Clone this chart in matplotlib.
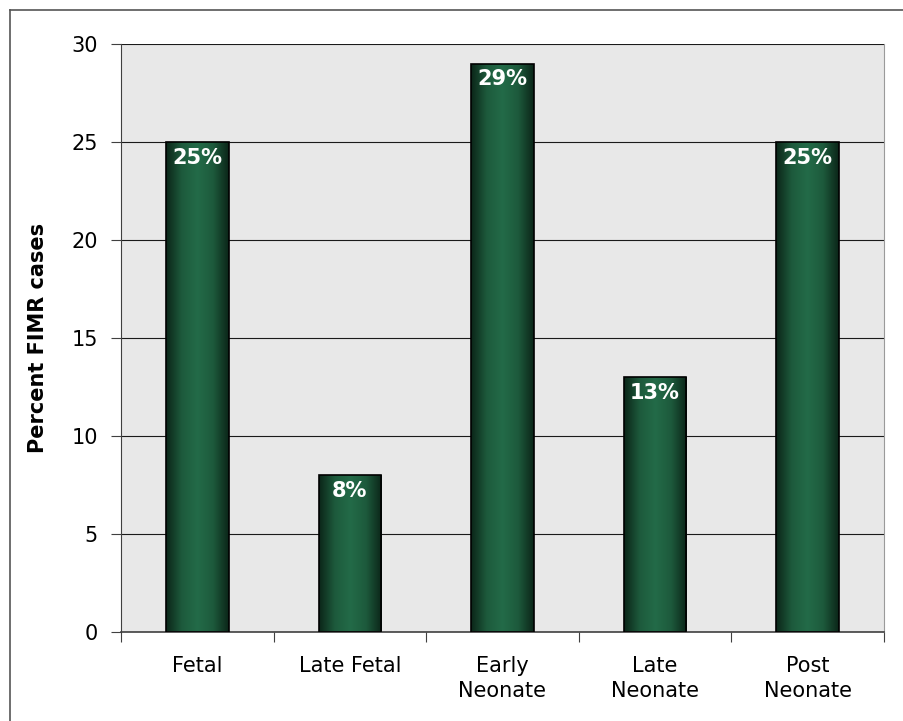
import numpy as np
import matplotlib.pyplot as plt
from matplotlib.colors import LinearSegmentedColormap
from matplotlib.lines import Line2D

plt.rcParams['font.family'] = ['DejaVu Sans']

categories = ['Fetal', 'Late Fetal', 'Early\nNeonate', 'Late\nNeonate', 'Post\nNeonate']
values = [25, 8, 29, 13, 25]
labels = ['25%', '8%', '29%', '13%', '25%']

fig = plt.figure(figsize=(9.04, 7.21), dpi=100)
ax = fig.add_axes([121 / 904, 1 - 632 / 721, 763 / 904, 588 / 721])

ax.set_facecolor('#e8e8e8')
x = np.arange(len(categories))
bars = ax.bar(x, values, width=0.41, color='none', edgecolor='black', linewidth=1.2, zorder=3)

# horizontal gradient: dark edges, lighter centre
cmap = LinearSegmentedColormap.from_list('grn', ['#0b2518', '#1d5a3c', '#236b48', '#1d5a3c', '#0b2518'])
grad = np.linspace(0, 1, 256).reshape(1, -1)
for b in bars:
    bx, by = b.get_x(), b.get_y()
    bw, bh = b.get_width(), b.get_height()
    im = ax.imshow(grad, cmap=cmap, extent=[bx, bx + bw, by, by + bh], aspect='auto', zorder=2)
    im.set_clip_path(b)

for xi, v, lab in zip(x, values, labels):
    ax.text(xi, v - 0.8, lab, ha='center', va='center', color='white',
            fontsize=15, fontweight='bold', zorder=4)

ax.set_xlim(-0.5, len(categories) - 0.5)
ax.set_ylim(0, 30)
ax.set_yticks(range(0, 31, 5))
ax.yaxis.grid(True, color='#1a1a1a', linewidth=0.8, zorder=1)
ax.set_axisbelow(True)

ax.set_xticks(np.arange(len(categories) + 1) - 0.5)
ax.set_xticklabels([])
ax.set_xticks(x, minor=True)
ax.set_xticklabels(categories, minor=True, fontsize=15, linespacing=1.35)
ax.tick_params(axis='x', which='minor', length=0, pad=17)
ax.tick_params(axis='x', which='major', direction='out', length=7, color='#404040')
ax.tick_params(axis='y', direction='out', length=7, labelsize=15, color='#404040', pad=9.5)

ax.spines['left'].set_color('#404040')
ax.spines['bottom'].set_color('#404040')
ax.spines['bottom'].set_linewidth(1.2)
ax.spines['top'].set_visible(False)
ax.spines['right'].set_color('#9a9a9a')

ax.set_ylabel('Percent FIMR cases', fontsize=15, fontweight='bold', labelpad=17)

# figure border (left and top)
fig.add_artist(Line2D([10 / 904, 10 / 904], [0, 1 - 10 / 721], transform=fig.transFigure, color='#555555', linewidth=1.2))
fig.add_artist(Line2D([10 / 904, 1], [1 - 10 / 721, 1 - 10 / 721], transform=fig.transFigure, color='#555555', linewidth=1.2))

fig.savefig('out.png', dpi=100)
